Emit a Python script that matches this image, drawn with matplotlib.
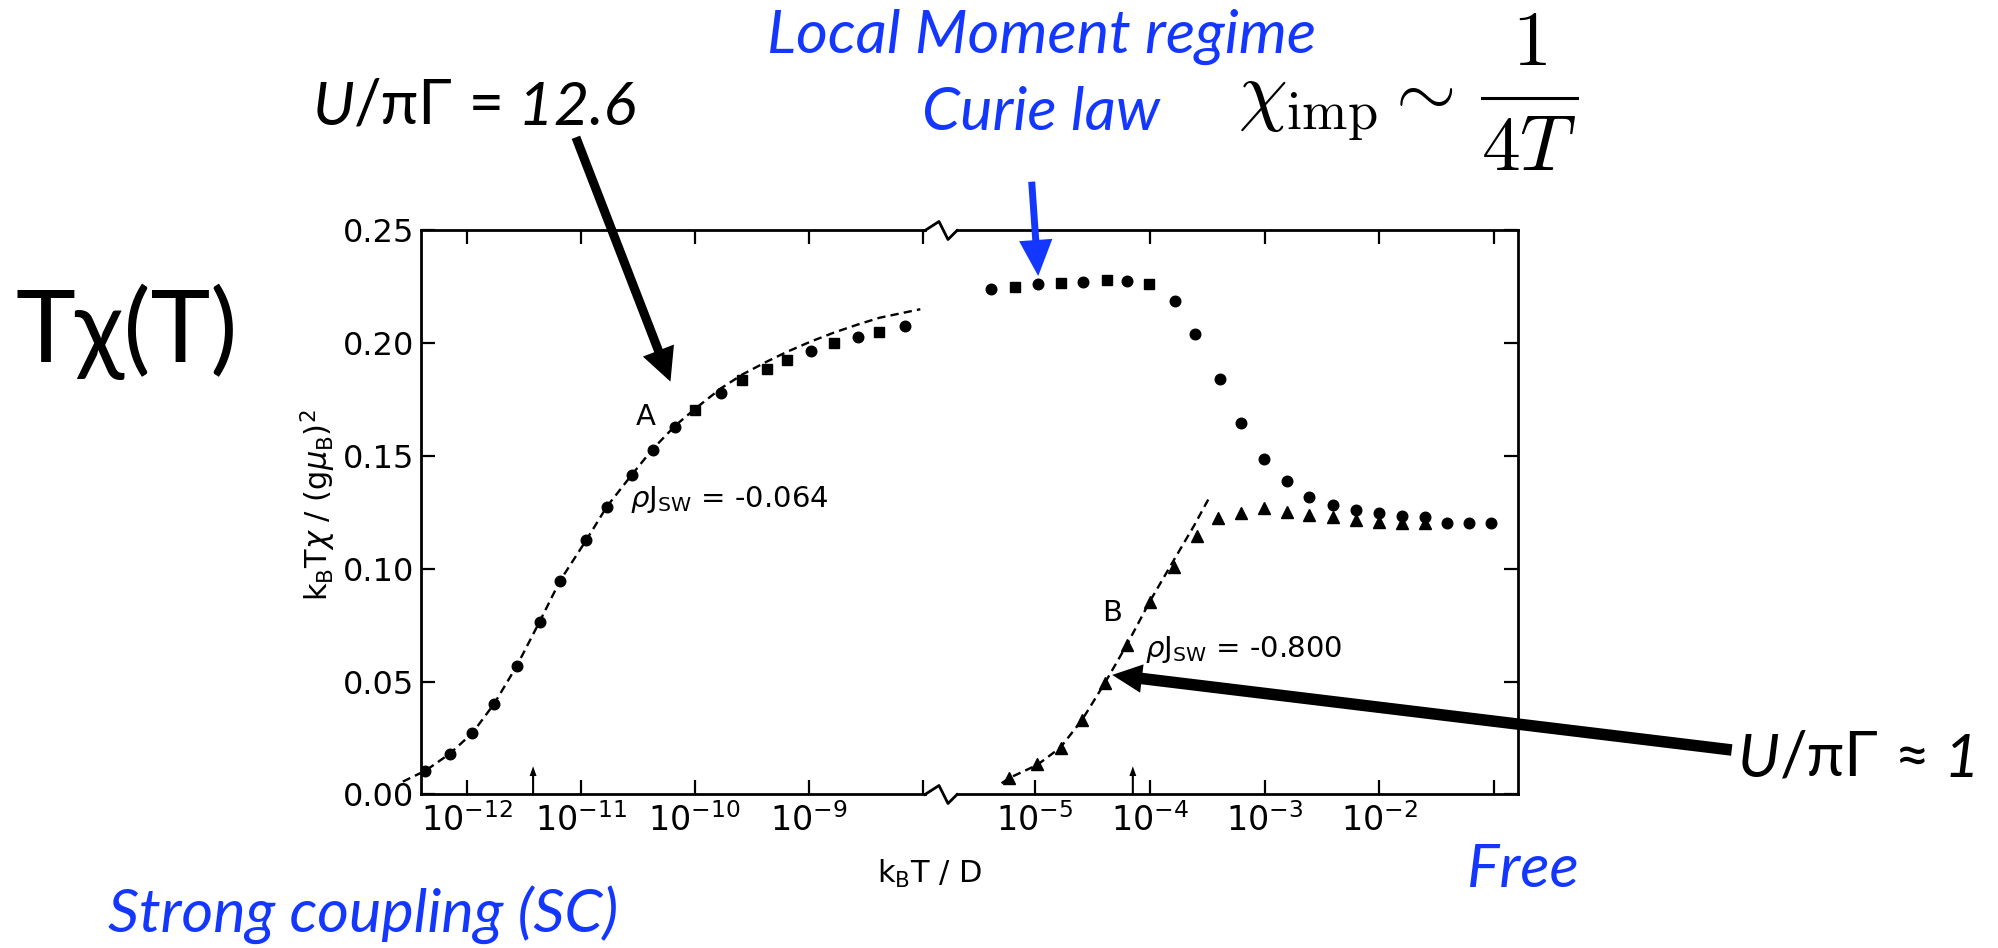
import numpy as np
import matplotlib
matplotlib.use('Agg')
import matplotlib.pyplot as plt
from matplotlib.lines import Line2D
from matplotlib.ticker import NullLocator

plt.rcParams['font.family'] = ['DejaVu Sans']
plt.rcParams['mathtext.fontset'] = 'dejavusans'

# ---- data: log10(k_B T / D) and k_B T chi / (g mu_B)^2 ----
# curve A, low temperature side (rho J_sw = -0.064)
a_lo_circ_t = [-12.364, -12.149, -11.953, -11.757, -11.561, -11.358, -11.178,
               -10.951, -10.767, -10.551, -10.368, -10.171, -9.769, -8.978,
               -8.567, -8.156]
a_lo_circ_y = [0.0106, 0.0180, 0.0271, 0.0401, 0.0570, 0.0766, 0.0948,
               0.1128, 0.1276, 0.1416, 0.1527, 0.1630, 0.1781, 0.1967,
               0.2027, 0.2078]
a_lo_sq_t = [-9.995, -9.585, -9.369, -9.193, -8.775, -8.383]
a_lo_sq_y = [0.1704, 0.1837, 0.1885, 0.1926, 0.2000, 0.2051]
a_lo_fit_t = [-12.56, -12.36, -12.15, -11.95, -11.76, -11.56, -11.36, -11.18,
              -10.95, -10.77, -10.55, -10.37, -10.17, -9.99, -9.77, -9.58,
              -9.37, -9.19, -8.98, -8.78, -8.57, -8.38, -8.02]
a_lo_fit_y = [0.0057, 0.0106, 0.0180, 0.0272, 0.0401, 0.0570, 0.0766, 0.0948,
              0.1128, 0.1276, 0.1418, 0.1530, 0.1635, 0.1712, 0.1800, 0.1862,
              0.1918, 0.1962, 0.2008, 0.2047, 0.2083, 0.2113, 0.2151]

# curve A, high temperature side (local moment plateau and decay)
a_hi_circ_t = [-5.386, -4.971, -4.580, -4.197, -3.782, -3.602, -3.389, -3.203,
               -3.003, -2.804, -2.609, -2.402, -2.203, -2.003, -1.800, -1.603,
               -1.410, -1.217, -1.027]
a_hi_circ_y = [0.2239, 0.2262, 0.2270, 0.2276, 0.2188, 0.2041, 0.1842, 0.1648,
               0.1486, 0.1391, 0.1320, 0.1283, 0.1261, 0.1249, 0.1234, 0.1229,
               0.1205, 0.1202, 0.1202]
a_hi_sq_t = [-5.174, -4.774, -4.376, -4.005]
a_hi_sq_y = [0.2251, 0.2269, 0.2281, 0.2263]

# curve B (rho J_sw = -0.800)
b_t = [-5.224, -4.980, -4.776, -4.586, -4.386, -4.196, -3.997, -3.788, -3.592,
       -3.408, -3.202, -3.002, -2.803, -2.610, -2.402, -2.203, -2.003, -1.800,
       -1.603]
b_y = [0.0072, 0.0135, 0.0205, 0.0330, 0.0493, 0.0663, 0.0855, 0.1007, 0.1146,
       0.1224, 0.1249, 0.1269, 0.1254, 0.1239, 0.1231, 0.1217, 0.1209, 0.1202,
       0.1202]
b_fit_t = [-5.29, -5.22, -4.98, -4.78, -4.59, -4.39, -4.20, -4.00, -3.79,
           -3.61, -3.48]
b_fit_y = [0.0050, 0.0074, 0.0131, 0.0207, 0.0330, 0.0495, 0.0663, 0.0855,
           0.1039, 0.1195, 0.1317]

# characteristic temperatures marked on the axis
tk_a, tk_b = -11.417, -4.147
tk_arrow_len = 0.0125

lo_ticks = [-12, -11, -10, -9, -8]
hi_ticks = [-5, -4, -3, -2, -1]
y_ticks = [0.00, 0.05, 0.10, 0.15, 0.20, 0.25]

W, H = 1998, 948
blue = '#1437ff'
sans = ['Lato', 'DejaVu Sans']


def fxy(px, py):
    # pixel position (origin top left) -> figure fraction
    return px / W, 1 - py / H


fig = plt.figure(figsize=(W / 100, H / 100), dpi=100)
ax1 = fig.add_axes([0.21056, 0.16192, 0.25240, 0.59494])
ax2 = fig.add_axes([0.47883, 0.16192, 0.28108, 0.59494])

mk = dict(color='black', linestyle='none', zorder=3)
dash = dict(color='black', lw=1.7, linestyle=(0, (3.5, 2.2)), zorder=2)

ax1.plot(10 ** np.array(a_lo_fit_t), a_lo_fit_y, clip_on=False, **dash)
ax1.plot(10 ** np.array(a_lo_circ_t), a_lo_circ_y, marker='o', ms=7.6, **mk)
ax1.plot(10 ** np.array(a_lo_sq_t), a_lo_sq_y, marker='s', ms=6.6, **mk)

ax2.plot(10 ** np.array(b_fit_t), b_fit_y, **dash)
ax2.plot(10 ** np.array(b_t), b_y, marker='^', ms=8.2, **mk)
ax2.plot(10 ** np.array(a_hi_circ_t), a_hi_circ_y, marker='o', ms=7.6, **mk)
ax2.plot(10 ** np.array(a_hi_sq_t), a_hi_sq_y, marker='s', ms=6.6, **mk)

ax1.set_xlim(10 ** -12.403, 10 ** -7.979)
ax2.set_xlim(10 ** -5.681, 10 ** -0.790)

for ax, ticks in ((ax1, lo_ticks), (ax2, hi_ticks)):
    ax.set_xscale('log')
    ax.set_ylim(0, 0.25)
    ax.xaxis.set_minor_locator(NullLocator())
    labels = [r'$\mathdefault{10^{%d}}$' % e for e in ticks[:-1]] + ['']
    ax.set_xticks([10.0 ** e for e in ticks], labels=labels)
    ax.set_yticks(y_ticks)
    ax.tick_params(axis='x', which='major', direction='in', top=True,
                   bottom=True, length=10, width=1.6, labelsize=24, pad=6)
    ax.tick_params(axis='y', direction='in', length=10, width=1.6,
                   labelsize=23, pad=5)
    for s in ax.spines.values():
        s.set_linewidth(2.0)

ax1.spines['right'].set_visible(False)
ax2.spines['left'].set_visible(False)
ax1.set_yticklabels(['%.2f' % v for v in y_ticks])
ax2.tick_params(axis='y', left=False, right=True, labelleft=False)

# broken-axis zigzags between the two panels
for y0 in (230.5, 794.5):
    pts = [(925, y0), (939, y0 - 9), (948, y0 + 9), (957, y0)]
    xs, ys = zip(*[fxy(px, py) for px, py in pts])
    fig.add_artist(Line2D(xs, ys, transform=fig.transFigure,
                          color='black', lw=2.0))

# small arrows marking T_K on each curve
for ax, t in ((ax1, tk_a), (ax2, tk_b)):
    ax.annotate('', xy=(10 ** t, tk_arrow_len), xytext=(10 ** t, 0),
                arrowprops=dict(arrowstyle='simple,head_length=7,head_width=5,tail_width=1.5',
                                mutation_scale=1, color='black', lw=0,
                                shrinkA=0, shrinkB=0))

ax1.text(10 ** -10.433, 0.1675, 'A', fontsize=21, ha='center', va='center')
ax1.text(10 ** -10.563, 0.1276, r'$\rho\mathregular{J_{SW}}$ = -0.064',
         fontsize=21, ha='left', va='baseline')
ax2.text(10 ** -4.325, 0.0803, 'B', fontsize=21, ha='center', va='center')
ax2.text(10 ** -4.041, 0.0611, r'$\rho\mathregular{J_{SW}}$ = -0.800',
         fontsize=21, ha='left', va='baseline')

fig.text(*fxy(930, 883), r'k$_\mathregular{B}$T / D', fontsize=22,
         ha='center', va='baseline')
fig.text(*fxy(318, 505), r'k$_\mathregular{B}$T$\chi$ / (g$\mu_\mathregular{B}$)$^\mathregular{2}$',
         fontsize=22, rotation=90, ha='center', va='center')


def caption(px, py, pieces, size, color='black'):
    # a run of text pieces with mixed upright / italic styles on one baseline
    prev = None
    for s, st in pieces:
        kw = dict(fontsize=size, family=sans, style=st, color=color)
        if prev is None:
            prev = fig.text(*fxy(px, py), s, ha='left', va='baseline', **kw)
        else:
            prev = ax1.annotate(s, xy=(1, 0), xycoords=prev, ha='left',
                                va='bottom', annotation_clip=False, **kw)


fig.text(*fxy(15.6, 361.7), 'Tχ(T)', fontsize=73, family=sans,
         ha='left', va='baseline')
caption(312.5, 125, [('U', 'italic'), ('/πΓ', 'normal'), (' =', 'normal'),
                     (' 12.6', 'italic')], 44)
caption(1738.3, 776.7, [('U', 'italic'), ('/πΓ', 'normal'), (' ≈', 'normal'),
                        (' 1', 'italic')], 44)
caption(766.7, 53.3, [('Local Moment regime', 'italic')], 44, blue)
caption(921.7, 130, [('Curie law', 'italic')], 44, blue)
caption(108.3, 931.7, [('Strong coupling (SC)', 'italic')], 44, blue)
caption(1466.7, 886.7, [('Free', 'italic')], 44, blue)

# Curie law, set as a display-style fraction
fig.text(*fxy(1238, 117), r'$\chi_{\rm imp} \sim$', fontsize=56,
         math_fontfamily='cm', ha='left', va='baseline')
fig.text(*fxy(1529, 65), r'$1$', fontsize=56, math_fontfamily='cm',
         ha='center', va='baseline')
fig.text(*fxy(1529, 170), r'$4T$', fontsize=56, math_fontfamily='cm',
         ha='center', va='baseline')
bx, by = zip(fxy(1481.7, 98.3), fxy(1576.7, 98.3))
fig.add_artist(Line2D(bx, by, transform=fig.transFigure, color='black', lw=2.2))


def pointer(ax, tip, tail_px, color, hl, hw, tw):
    ax.annotate('', xy=tip, xycoords='data', xytext=fxy(*tail_px),
                textcoords='figure fraction', annotation_clip=False,
                arrowprops=dict(arrowstyle='simple,head_length=%g,head_width=%g,tail_width=%g'
                                % (hl, hw, tw), mutation_scale=1, color=color,
                                lw=0, shrinkA=0, shrinkB=0), zorder=5)


pointer(ax1, (10 ** -10.212, 0.183), (575.9, 137.3), 'black', 24, 24, 6.5)
pointer(ax2, (10 ** -4.327, 0.0530), (1731.7, 750), 'black', 21.5, 20.5, 8.3)
pointer(ax2, (10 ** -4.971, 0.2298), (1031.7, 181.7), blue, 26, 24, 5)

fig.savefig('out.png', dpi=100)
